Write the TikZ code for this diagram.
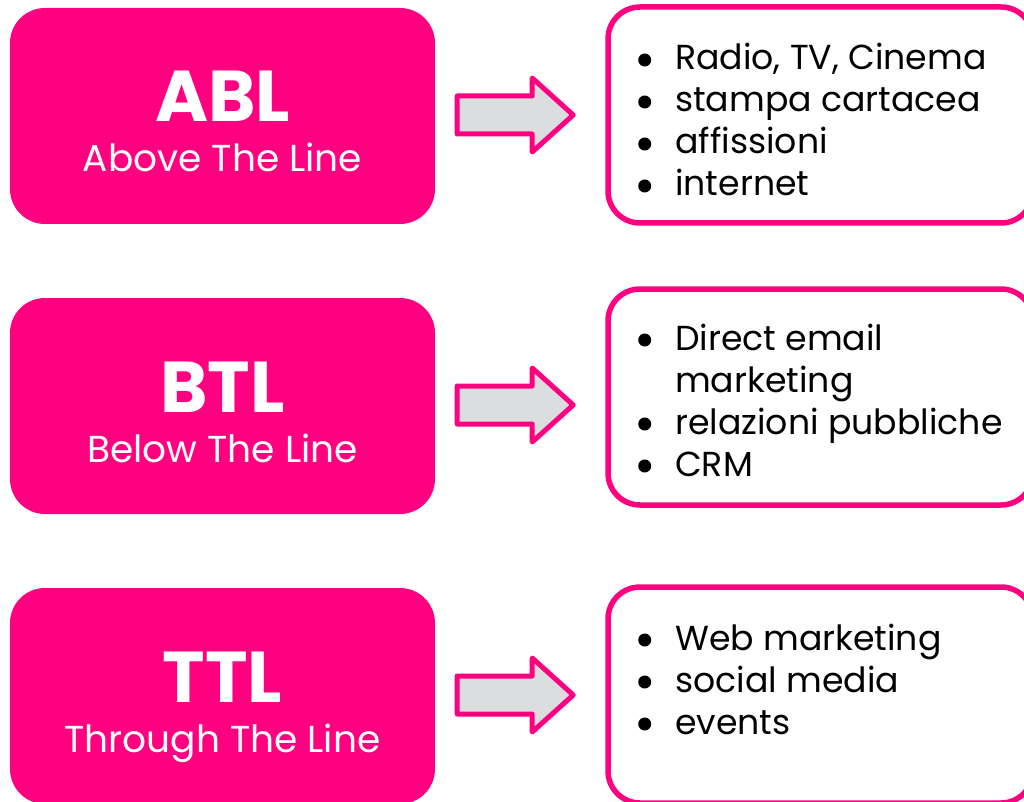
\documentclass[tikz,border=0pt]{standalone}
\usepackage{fontspec}
\setmainfont{Poppins}
\usepackage{xcolor}
\definecolor{hotpinkc}{HTML}{FF0080}
\definecolor{arrowgrayc}{HTML}{DCDDDE}
\colorlet{hotpink}{hotpinkc}
\colorlet{arrowgray}{arrowgrayc}
\tikzstyle{linebox} =[
    fill=hotpink,
    rounded corners=35pt,
    minimum width=425pt,
    minimum height=216pt,
    inner sep=0pt
    ]
\tikzstyle{listbox} =[
    draw=hotpink,
    fill=white,
    line width=5.5pt,
    rounded corners=32pt,
    minimum width=425pt,
    minimum height=216pt
    ]
\tikzstyle{acronym} =[
    text=white,
    font=\fontsize{72}{72}\selectfont\bfseries,
    anchor=base,
    inner sep=0pt
    ]
\tikzstyle{subtitle} =[
    text=white,
    font=\fontsize{37.5}{37.5}\selectfont,
    anchor=base,
    inner sep=0pt
    ]
\tikzstyle{items} =[
    anchor=base west,
    inner sep=0pt
    ]
\tikzstyle{bigarrow} =[
    draw=hotpink,
    fill=arrowgray,
    line width=5pt,
    line join=round
    ]
\newcommand{\li}[1]{% one bullet line
\par\noindent\hangindent=37pt\makebox[37pt][l]{%
\tikz[baseline=0pt]{\fill[black] (7pt,10pt) circle (6.5pt);}}#1}

\begin{document}
\begin{tikzpicture}[x=1pt,y=-1pt]
\useasboundingbox (0,0) rectangle (1024,802);

% left column
\node[linebox] (abl) at (222.5,116) {};
\node[acronym] (abltitle) at (222.5,122) {ABL};
\node[subtitle] (ablsub) at (222.5,172) {Above The Line};

\node[linebox] (btl) at (222.5,406) {};
\node[acronym] (btltitle) at (222.5,412) {BTL};
\node[subtitle] (btlsub) at (222.5,462) {Below The Line};

\node[linebox] (ttl) at (222.5,696) {};
\node[acronym] (ttltitle) at (222.5,702) {TTL};
\node[subtitle] (ttlsub) at (222.5,752) {Through The Line};

% right column
\node[listbox] (ablr) at (820.5,115) {};
\node[items] (abllist) at (638,70) {%
    \begin{minipage}[t]{380pt}\fontsize{34.7}{42}\selectfont
\li{Radio, TV, Cinema}
\li{stampa cartacea}
\li{affissioni}
\li{internet}
    \end{minipage}
};

\node[listbox] (btlr) at (820.5,397) {};
\node[items] (btllist) at (638,350) {%
    \begin{minipage}[t]{380pt}\fontsize{34.7}{42}\selectfont
\li{Direct email\newline marketing}
\li{relazioni pubbliche}
\li{CRM}
    \end{minipage}
};

\node[listbox] (ttlr) at (820.5,695) {};
\node[items] (ttllist) at (638,650) {%
    \begin{minipage}[t]{380pt}\fontsize{34.7}{42}\selectfont
\li{Web marketing}
\li{social media}
\li{events}
    \end{minipage}
};

% arrows
\foreach \n in {abl,btl,ttl}{
\draw[bigarrow] ([shift={(22,-20)}]\n.east) -- ([shift={(97,-20)}]\n.east)
    -- ([shift={(97,-38)}]\n.east) -- ([shift={(138,-1)}]\n.east)
    -- ([shift={(97,36)}]\n.east) -- ([shift={(97,18)}]\n.east)
    -- ([shift={(22,18)}]\n.east) -- cycle;
}
\end{tikzpicture}
\end{document}
